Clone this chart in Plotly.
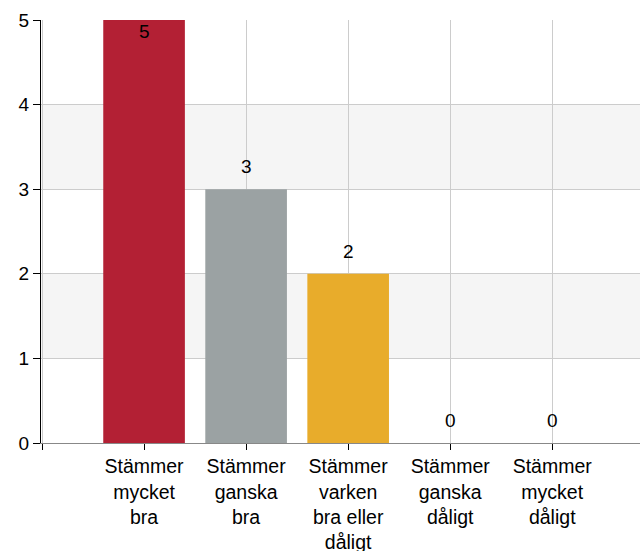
import plotly.graph_objects as go

categories = ["Stämmer<br>mycket<br>bra", "Stämmer<br>ganska<br>bra",
              "Stämmer<br>varken<br>bra eller<br>dåligt", "Stämmer<br>ganska<br>dåligt",
              "Stämmer<br>mycket<br>dåligt"]
values = [5, 3, 2, 0, 0]
bar_colors = ["#B32034", "#9BA2A3", "#E8AC2B", "#CCCCCC", "#CCCCCC"]
y_ticks = [0, 1, 2, 3, 4, 5]
y_max = 5

positions = list(range(len(categories)))
FONT = "Liberation Sans, Arial, sans-serif"

fig = go.Figure()
fig.add_trace(go.Bar(
    x=positions, y=values, width=0.8,
    marker=dict(color=bar_colors, line=dict(width=0)),
    showlegend=False, hoverinfo="x+y",
))

# value labels: above the bar, or inside the top when the bar reaches the axis max
for xp, v in zip(positions, values):
    inside = v >= y_max
    fig.add_annotation(
        x=xp, y=v, xref="x", yref="y", text=str(v), showarrow=False,
        yanchor="top" if inside else "bottom",
        yshift=1 if inside else 10,
        font=dict(family=FONT, size=19, color="black"),
    )

# alternating bands
for lo in [1, 3]:
    fig.add_shape(type="rect", xref="paper", yref="y", x0=0, x1=1, y0=lo, y1=lo + 1,
                  fillcolor="#F5F5F5", line=dict(width=0), layer="below")

fig.update_layout(
    width=640, height=551,
    margin=dict(l=41, r=0, t=20, b=108),
    paper_bgcolor="white", plot_bgcolor="rgba(0,0,0,0)",
    font=dict(family=FONT, size=19, color="black"),
    bargap=0.2,
)
fig.update_xaxes(
    range=[-1.01, 4.86], tickvals=[-1] + positions, ticktext=[""] + categories,
    showgrid=True, gridcolor="#CCCCCC", gridwidth=1,
    ticks="outside", ticklen=6, tickcolor="black",
    showline=True, linecolor="#888888", linewidth=1,
    zeroline=False, tickangle=0, automargin=False,
    tickfont=dict(family=FONT, size=19.5, color="black"),
)
fig.update_yaxes(
    range=[0, y_max], tickvals=y_ticks,
    showgrid=True, gridcolor="#CCCCCC", gridwidth=1,
    ticks="outside", ticklen=7, tickcolor="black",
    showline=True, linecolor="black", linewidth=1,
    zeroline=False, automargin=False,
    tickfont=dict(family=FONT, size=19, color="black"),
)

fig.write_html(
    "out.html",
    config={"displayModeBar": False},
    post_script="document.body.style.margin='0';document.body.style.overflow='hidden';",
)
